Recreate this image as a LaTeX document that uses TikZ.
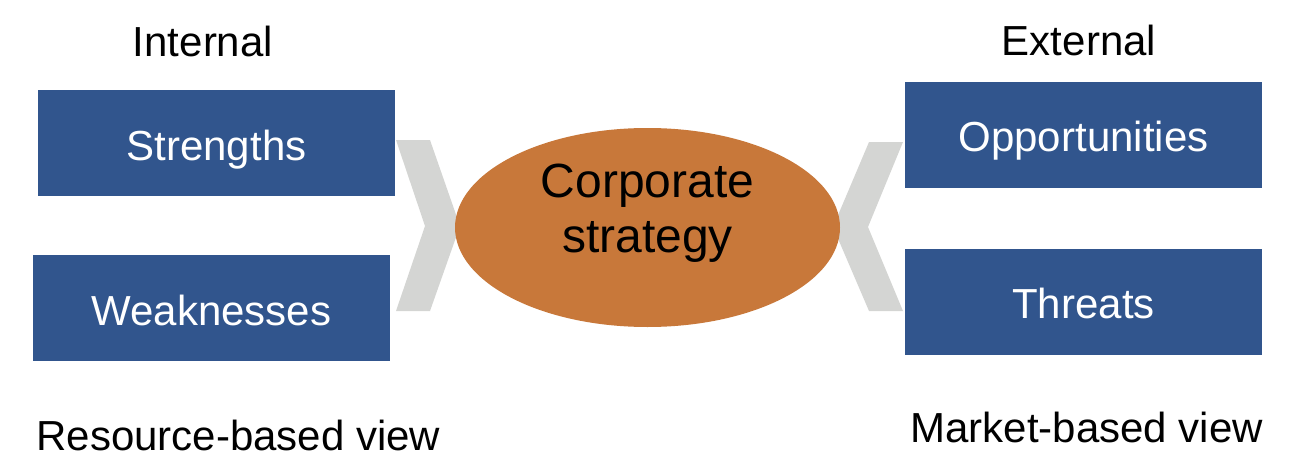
\documentclass[tikz,border=0pt]{standalone}
\usepackage{fontspec}
\setmainfont{Liberation Sans}
\usetikzlibrary{shapes.geometric}

\definecolor{swotblue}{RGB}{49,85,141}
\definecolor{stratorange}{RGB}{200,120,58}
\definecolor{chevgray}{RGB}{212,213,211}

\begin{document}
\begin{tikzpicture}[x=1pt, y=-1pt,
	every node/.style={font=\fontsize{42}{48}\selectfont},
	swotbox/.style={fill=swotblue, text=white, minimum width=357, minimum height=106,
		inner sep=0pt, text height=34pt, text depth=0pt},
	heading/.style={anchor=base}]
	\useasboundingbox (0,0) rectangle (1290,460);
	% chevrons
	\fill[chevgray] (396,140) -- (430,140) -- (460,226) -- (430,311) -- (396,311) -- (425,226) -- cycle;
	\fill[chevgray] (903,142) -- (869,142) -- (833,227) -- (869,311) -- (903,311) -- (868,227) -- cycle;
	% internal side
	\node[heading] (int) at (203,57) {Internal};
	\node[swotbox] (str) at (216.5,143) {Strengths};
	\node[swotbox] (weak) at (211.5,308) {Weaknesses};
	\node[anchor=base west] (rbv) at (33,450) {Resource-based view};
	% external side
	\node[heading] (ext) at (1079,56) {External};
	\node[swotbox] (opp) at (1083.5,134.5) {Opportunities};
	\node[swotbox] (thr) at (1083.5,301.5) {Threats};
	\node[anchor=base west] (mbv) at (907,442) {Market-based view};
	% centre
	\node[ellipse, fill=stratorange, minimum width=385, minimum height=199, inner sep=0pt] (strat) at (647.5,227.5) {};
	\node[align=center, font=\fontsize{48}{55}\selectfont, anchor=base] (stratlbl) at (647.5,252) {Corporate\\strategy};
\end{tikzpicture}
\end{document}
